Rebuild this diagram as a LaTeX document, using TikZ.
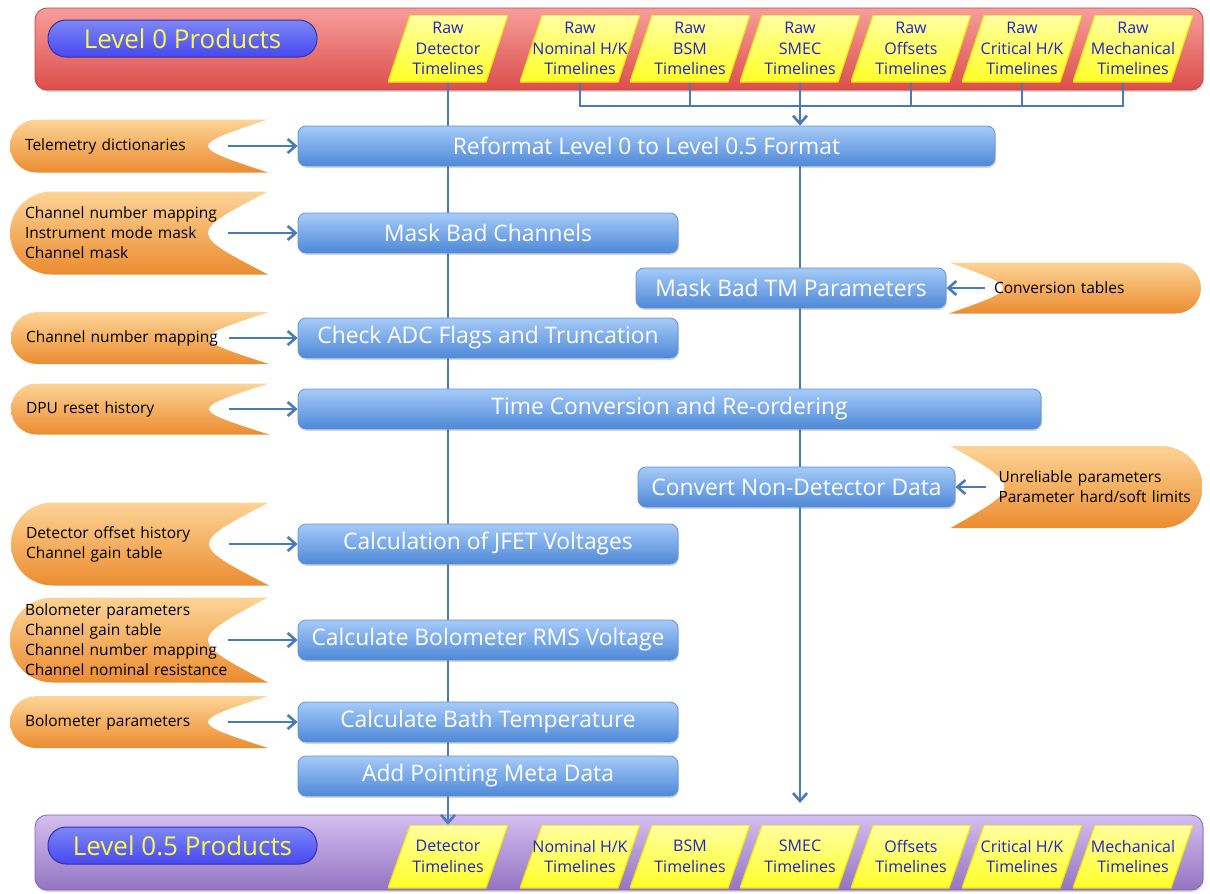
\documentclass[tikz,border=0pt]{standalone}
\usepackage{fontspec}
\setmainfont{Open Sans}
\usetikzlibrary{shapes.geometric,shadows,calc,arrows.meta}

\definecolor{redtop}{RGB}{246,158,156}
\definecolor{redbot}{RGB}{220,78,74}
\definecolor{rededge}{RGB}{190,70,68}
\definecolor{purptop}{RGB}{212,190,240}
\definecolor{purpbot}{RGB}{148,116,194}
\definecolor{purpedge}{RGB}{130,100,180}
\definecolor{pilltop}{RGB}{125,135,246}
\definecolor{pillblue}{RGB}{26,26,238}
\definecolor{pilledge}{RGB}{50,50,170}
\definecolor{pilltext}{RGB}{250,250,70}
\definecolor{rawtop}{RGB}{255,255,160}
\definecolor{rawyellow}{RGB}{255,255,40}
\definecolor{rawedge}{RGB}{240,225,20}
\definecolor{rawtext}{RGB}{30,36,200}
\definecolor{boxtop}{RGB}{166,203,248}
\definecolor{boxbot}{RGB}{78,136,216}
\definecolor{boxedge}{RGB}{98,146,212}
\definecolor{tabtop}{RGB}{252,212,150}
\definecolor{taborange}{RGB}{247,168,76}
\definecolor{tabbot}{RGB}{236,140,48}
\definecolor{flowblue}{RGB}{74,122,186}

\pgfdeclarelayer{banner}
\pgfdeclarelayer{lines}
\pgfsetlayers{banner,lines,main}

\tikzset{
  banner/.style={rectangle, rounded corners=12pt, minimum width=1168pt, line width=0.8pt,
    drop shadow={opacity=0.3, shadow xshift=1pt, shadow yshift=-2pt}},
  pill/.style={rectangle, rounded corners=18pt, minimum width=269pt, minimum height=37pt,
    top color=pilltop, middle color=pillblue, bottom color=pillblue!80!white, draw=pilledge,
    line width=1pt, text=pilltext, font=\fontsize{26}{30}\selectfont},
  raw/.style={rectangle, minimum width=120pt, minimum height=#1, inner sep=0pt, align=center,
    text=rawtext, font=\fontsize{16}{20.5}\selectfont,
    path picture={
      \shadedraw[top color=rawtop, bottom color=rawyellow, draw=rawedge, line width=1.2pt]
        let \p1=(path picture bounding box.north west), \p2=(path picture bounding box.south east) in
        (\x1+22pt,\y1) -- (\x2,\y1) -- (\x2-22pt,\y2) -- (\x1,\y2) -- cycle;
    }},
  proc/.style={rectangle, rounded corners=8pt, minimum height=40pt, draw=boxedge, line width=0.8pt,
    top color=boxtop, bottom color=boxbot, text=white, font=\fontsize{22.8}{26}\selectfont,
    drop shadow={opacity=0.3, shadow xshift=1pt, shadow yshift=-2pt}},
  ltab/.style={rectangle, minimum height=#1, inner xsep=15pt, text width=228pt, align=left,
    font=\fontsize{15.5}{20}\selectfont,
    path picture={
      \shade[top color=tabtop, middle color=taborange, bottom color=tabbot]
        let \p1=(path picture bounding box.north west), \p2=(path picture bounding box.south east),
            \n1={(\y1-\y2)/2} in
        (\x2,\y1) -- (\x1+\n1,\y1)
        .. controls (\x1+0.448*\n1,\y1) and (\x1,\y1-0.448*\n1) .. (\x1,\y1-\n1)
        .. controls (\x1,\y2+0.448*\n1) and (\x1+0.448*\n1,\y2) .. (\x1+\n1,\y2)
        -- (\x2,\y2) .. controls (\x2-80pt,\y2+\n1) .. (\x2,\y1) -- cycle;
    }},
  rtab/.style={rectangle, minimum height=#1, inner xsep=0pt, text width=252pt, align=left,
    font=\fontsize{15.5}{20}\selectfont,
    path picture={
      \shade[top color=tabtop, middle color=taborange, bottom color=tabbot]
        let \p1=(path picture bounding box.north west), \p2=(path picture bounding box.south east),
            \n1={(\y1-\y2)/2} in
        (\x1,\y1) -- (\x2-\n1,\y1)
        .. controls (\x2-0.448*\n1,\y1) and (\x2,\y1-0.448*\n1) .. (\x2,\y1-\n1)
        .. controls (\x2,\y2+0.448*\n1) and (\x2-0.448*\n1,\y2) .. (\x2-\n1,\y2)
        -- (\x1,\y2) .. controls (\x1+72pt,\y2+\n1) .. (\x1,\y1) -- cycle;
    }},
  flow/.style={draw=flowblue, line width=2.8pt, -{Straight Barb[length=8pt,width=14pt,line width=2.6pt]}},
  bus/.style={draw=flowblue, line width=2.8pt}
}

\begin{document}
\begin{tikzpicture}[x=1pt,y=-1pt]
\useasboundingbox (0,0) rectangle (1210,894);

\begin{pgfonlayer}{banner}
  \node[banner, minimum height=82pt, top color=redtop, bottom color=redbot, draw=rededge] (lvl0bar) at (619,49) {};
  \node[banner, minimum height=75pt, top color=purptop, bottom color=purpbot, draw=purpedge] (lvl5bar) at (619,852.5) {};
\end{pgfonlayer}

\node[pill] (lvl0) at (182.5,38.5) {Level 0 Products};
\node[pill] (lvl5) at (182.5,845.5) {Level 0.5 Products};

% raw timelines
\node[raw=67pt] (rdet) at (448,48.5) {Raw\\Detector\\Timelines};
\node[raw=67pt] (rnom) at (580,48.5) {Raw\\Nominal H/K\\Timelines};
\node[raw=67pt] (rbsm) at (690,48.5) {Raw\\BSM\\Timelines};
\node[raw=67pt] (rsmec) at (800,48.5) {Raw\\SMEC\\Timelines};
\node[raw=67pt] (roff) at (911,48.5) {Raw\\Offsets\\Timelines};
\node[raw=67pt] (rcrit) at (1022,48.5) {Raw\\Critical H/K\\Timelines};
\node[raw=67pt] (rmech) at (1133,48.5) {Raw\\Mechanical\\Timelines};

% level 0.5 timelines
\node[raw=63pt] (ddet) at (448,856.5) {Detector\\Timelines};
\node[raw=63pt] (dnom) at (580,856.5) {Nominal H/K\\Timelines};
\node[raw=63pt] (dbsm) at (690,856.5) {BSM\\Timelines};
\node[raw=63pt] (dsmec) at (800,856.5) {SMEC\\Timelines};
\node[raw=63pt] (doff) at (911,856.5) {Offsets\\Timelines};
\node[raw=63pt] (dcrit) at (1022,856.5) {Critical H/K\\Timelines};
\node[raw=63pt] (dmech) at (1133,856.5) {Mechanical\\Timelines};

% processing steps
\node[proc, minimum width=697pt] (reformat) at (646.5,146) {Reformat Level 0 to Level 0.5 Format};
\node[proc, minimum width=380pt] (maskch) at (488,233) {Mask Bad Channels};
\node[proc, minimum width=310pt] (masktm) at (791,288) {Mask Bad TM Parameters};
\node[proc, minimum width=380pt] (adc) at (488,338) {Check ADC Flags and Truncation};
\node[proc, minimum width=743pt] (timeconv) at (669.5,409) {Time Conversion and Re-ordering};
\node[proc, minimum width=317pt] (nondet) at (796.5,487) {Convert Non-Detector Data};
\node[proc, minimum width=380pt] (jfet) at (488,544) {Calculation of JFET Voltages};
\node[proc, minimum width=380pt] (rms) at (488,640) {Calculate Bolometer RMS Voltage};
\node[proc, minimum width=380pt] (bath) at (488,722) {Calculate Bath Temperature};
\node[proc, minimum width=380pt] (pointing) at (488,776) {Add Pointing Meta Data};

% calibration inputs
\node[ltab=53pt] (tele) at (139,146) {Telemetry dictionaries};
\node[ltab=83pt] (chmask) at (139,233) {Channel number mapping\\Instrument mode mask\\Channel mask};
\node[ltab=52pt] (chmap) at (140,338) {Channel number mapping};
\node[ltab=51pt] (dpu) at (140,409) {DPU reset history};
\node[ltab=83pt] (offs) at (140,544) {Detector offset history\\Channel gain table};
\node[ltab=85pt] (bolo) at (139,640) {Bolometer parameters\\Channel gain table\\Channel number mapping\\Channel nominal resistance};
\node[ltab=52pt] (bolo2) at (139,722) {Bolometer parameters};
\node[rtab=51pt] (convtab) at (1075,288) {\hspace*{45pt}Conversion tables};
\node[rtab=82pt] (limits) at (1076.5,487) {\hspace*{48pt}Unreliable parameters\\\hspace*{48pt}Parameter~hard/soft~limits};

\coordinate (busmid) at (800,106);
\coordinate (smecend) at (800,803);

\begin{pgfonlayer}{lines}
  \draw[flow] (rdet.south) -- (rdet.south |- ddet.north);
  \draw[bus] (rnom.south) |- (busmid) -| ([xshift=-10pt]rmech.south);
  \draw[bus] (rbsm.south) -- (rbsm.south |- busmid);
  \draw[bus] (roff.south) -- (roff.south |- busmid);
  \draw[bus] (rcrit.south) -- (rcrit.south |- busmid);
  \draw[flow] (rsmec.south) -- (rsmec.south |- reformat.north);
  \draw[flow] (rsmec.south |- reformat.south) -- (smecend);

  \draw[flow] ($(tele.east)+(-40,0)$) -- (reformat);
  \draw[flow] ($(chmask.east)+(-40,0)$) -- (maskch);
  \draw[flow] ($(chmap.east)+(-40,0)$) -- (adc);
  \draw[flow] ($(dpu.east)+(-40,0)$) -- (timeconv.west);
  \draw[flow] ($(offs.east)+(-40,0)$) -- (jfet);
  \draw[flow] ($(bolo.east)+(-40,0)$) -- (rms);
  \draw[flow] ($(bolo2.east)+(-40,0)$) -- (bath.west);
  \draw[flow] ($(convtab.west)+(36,0)$) -- (masktm);
  \draw[flow] ($(limits.west)+(36,0)$) -- (nondet);
\end{pgfonlayer}
\end{tikzpicture}
\end{document}
